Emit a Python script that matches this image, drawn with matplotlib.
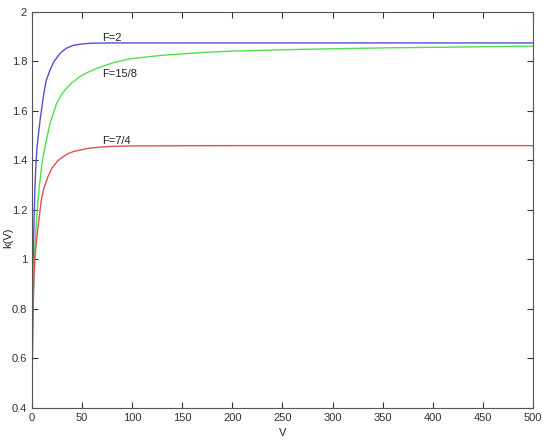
import matplotlib
matplotlib.use("Agg")
import matplotlib.pyplot as plt

plt.rcParams['font.family'] = ['Liberation Sans', 'DejaVu Sans']

# F=2 (blue)
v_blue = [0, 0.5, 1, 2, 3, 4, 5, 6, 8, 11.3, 14, 18, 22, 28, 34, 41, 50, 60, 80, 100,
          150, 200, 300, 400, 500]
k_blue = [0.47, 0.75, 0.95, 1.15, 1.30, 1.39, 1.45, 1.49, 1.56, 1.658, 1.72, 1.766, 1.80, 1.833,
          1.853, 1.865, 1.871, 1.874, 1.875, 1.875, 1.875, 1.875, 1.875, 1.875, 1.875]

# F=15/8 (green)
v_green = [0, 1, 2, 3, 4, 6, 8, 10, 13, 18, 24.6, 30, 34.6, 40, 48, 56, 64.6, 81, 98, 130,
           168, 200, 268, 350, 420, 500]
k_green = [0.47, 0.80, 0.95, 1.06, 1.13, 1.24, 1.32, 1.39, 1.456, 1.55, 1.631, 1.67, 1.692,
           1.715, 1.739, 1.757, 1.772, 1.795, 1.811, 1.825, 1.836, 1.842, 1.849, 1.855, 1.858,
           1.862]

# F=7/4 (red)
v_red = [0, 1, 2, 3.3, 6, 9.3, 12, 16, 20, 26, 31, 36, 42, 48, 56, 64.6, 80, 100, 200, 500]
k_red = [0.47, 0.78, 0.93, 1.026, 1.13, 1.24, 1.29, 1.335, 1.37, 1.40, 1.415, 1.428, 1.437,
         1.442, 1.449, 1.453, 1.457, 1.459, 1.46, 1.46]

labels = ["F=2", "F=15/8", "F=7/4"]
label_pos = [(70, 1.895), (70, 1.75), (70, 1.479)]

fig = plt.figure(figsize=(5.43, 4.44), dpi=100)
ax = fig.add_axes([0.0589, 0.0811, 0.9227, 0.8919])

ax.plot(v_blue, k_blue, color="#5050d8", lw=1)
ax.plot(v_green, k_green, color="#50e050", lw=1)
ax.plot(v_red, k_red, color="#e05050", lw=1)

for t, (x, y) in zip(labels, label_pos):
    ax.text(x, y, t, fontsize=8, va="center", ha="left", color="#222222")

ax.set_xlim(0, 500)
ax.set_ylim(0.4, 2)
ax.set_xticks(range(0, 501, 50))
ax.set_yticks([0.4, 0.6, 0.8, 1, 1.2, 1.4, 1.6, 1.8, 2])
ax.set_yticklabels(["0.4", "0.6", "0.8", "1", "1.2", "1.4", "1.6", "1.8", "2"])
ax.tick_params(direction="in", top=True, right=True, labelsize=8, length=4, colors="#333333")
for s in ax.spines.values():
    s.set_color("#555555")
ax.set_xlabel("V", fontsize=8, color="#222222")
ax.set_ylabel("k(V)", fontsize=8, color="#222222", va="center")
ax.yaxis.set_label_coords(-0.048, 0.43)

fig.savefig("out.png", dpi=100)
